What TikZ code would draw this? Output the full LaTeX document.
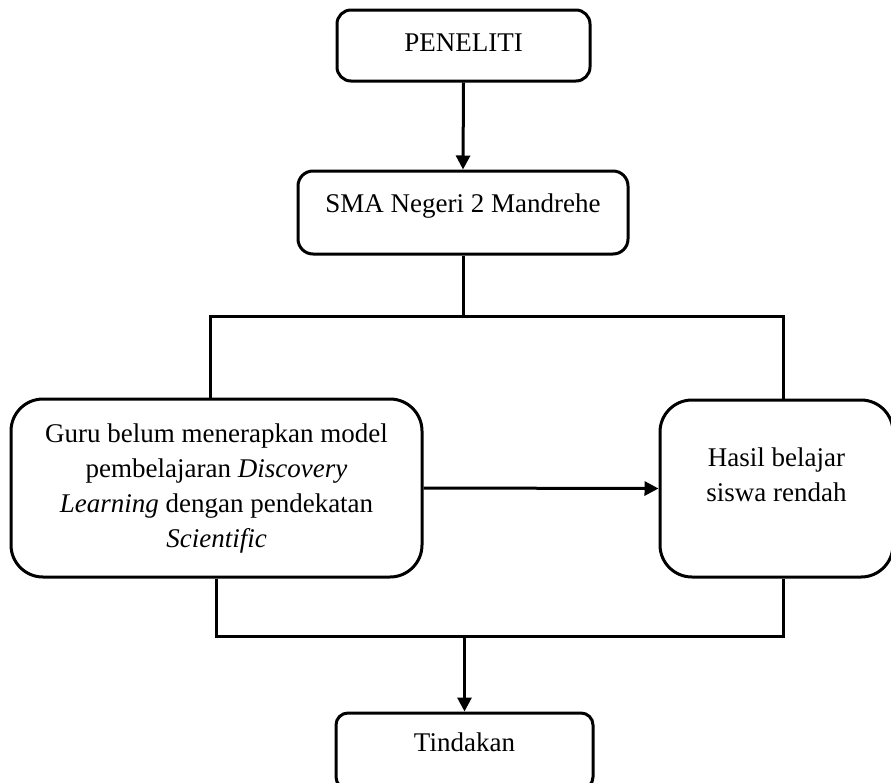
\documentclass[tikz,border=0pt]{standalone}
\usepackage{fontspec}
\setmainfont{Liberation Serif}
\usetikzlibrary{arrows.meta}
\begin{document}
\begin{tikzpicture}[x=1pt,y=-1pt,
  box/.style={draw, line width=3pt, inner sep=0pt, font=\fontsize{27}{35}\selectfont, align=center},
  conn/.style={line width=3pt},
  arr/.style={conn, -{Triangle[length=14pt,width=14pt]}}]
\useasboundingbox[fill=white] (0,0) rectangle (891,782);

\node[box, rounded corners=14pt, minimum width=253pt, minimum height=71pt, text height=18pt, text depth=7pt] (peneliti) at (463.5,45.5) {PENELITI};
\node[box, rounded corners=15pt, minimum width=330pt, minimum height=83pt, text height=18pt, text depth=19pt] (sma) at (463,212.5) {SMA Negeri 2 Mandrehe};
\node[box, rounded corners=32pt, minimum width=411pt, minimum height=178pt] (guru) at (216.5,488)
  {\begin{tabular}{@{}c@{}}Guru belum menerapkan model\\ pembelajaran \textit{Discovery}\\ \textit{Learning} dengan pendekatan\\ \textit{Scientific}\end{tabular}};
\node[box, rounded corners=32pt, minimum width=233pt, minimum height=177pt] (hasil) at (776.5,488.5)
  {\begin{tabular}{@{}c@{}}Hasil belajar\\ siswa rendah\\[24pt]\end{tabular}};
\node[box, rounded corners=12pt, minimum width=257pt, minimum height=76pt, text height=18pt, text depth=18pt] (tindakan) at (464.5,751) {Tindakan};

\coordinate (tl) at (210,316);
\coordinate (tr) at (783,316);
\coordinate (bl) at (216,636);
\coordinate (br) at (783,636);

\draw[arr] (peneliti.south) -- (sma.north);
\draw[conn] (sma.south) -- (sma.south |- tl);
\draw[conn] (tl |- guru.north) -- (tl) -- (tr) -- (tr |- hasil.north);
\draw[arr] (guru.east) -- (hasil.west);
\draw[conn] (bl |- guru.south) -- (bl) -- (br) -- (br |- hasil.south);
\draw[arr] (tindakan.north |- bl) -- (tindakan.north);
\end{tikzpicture}
\end{document}
